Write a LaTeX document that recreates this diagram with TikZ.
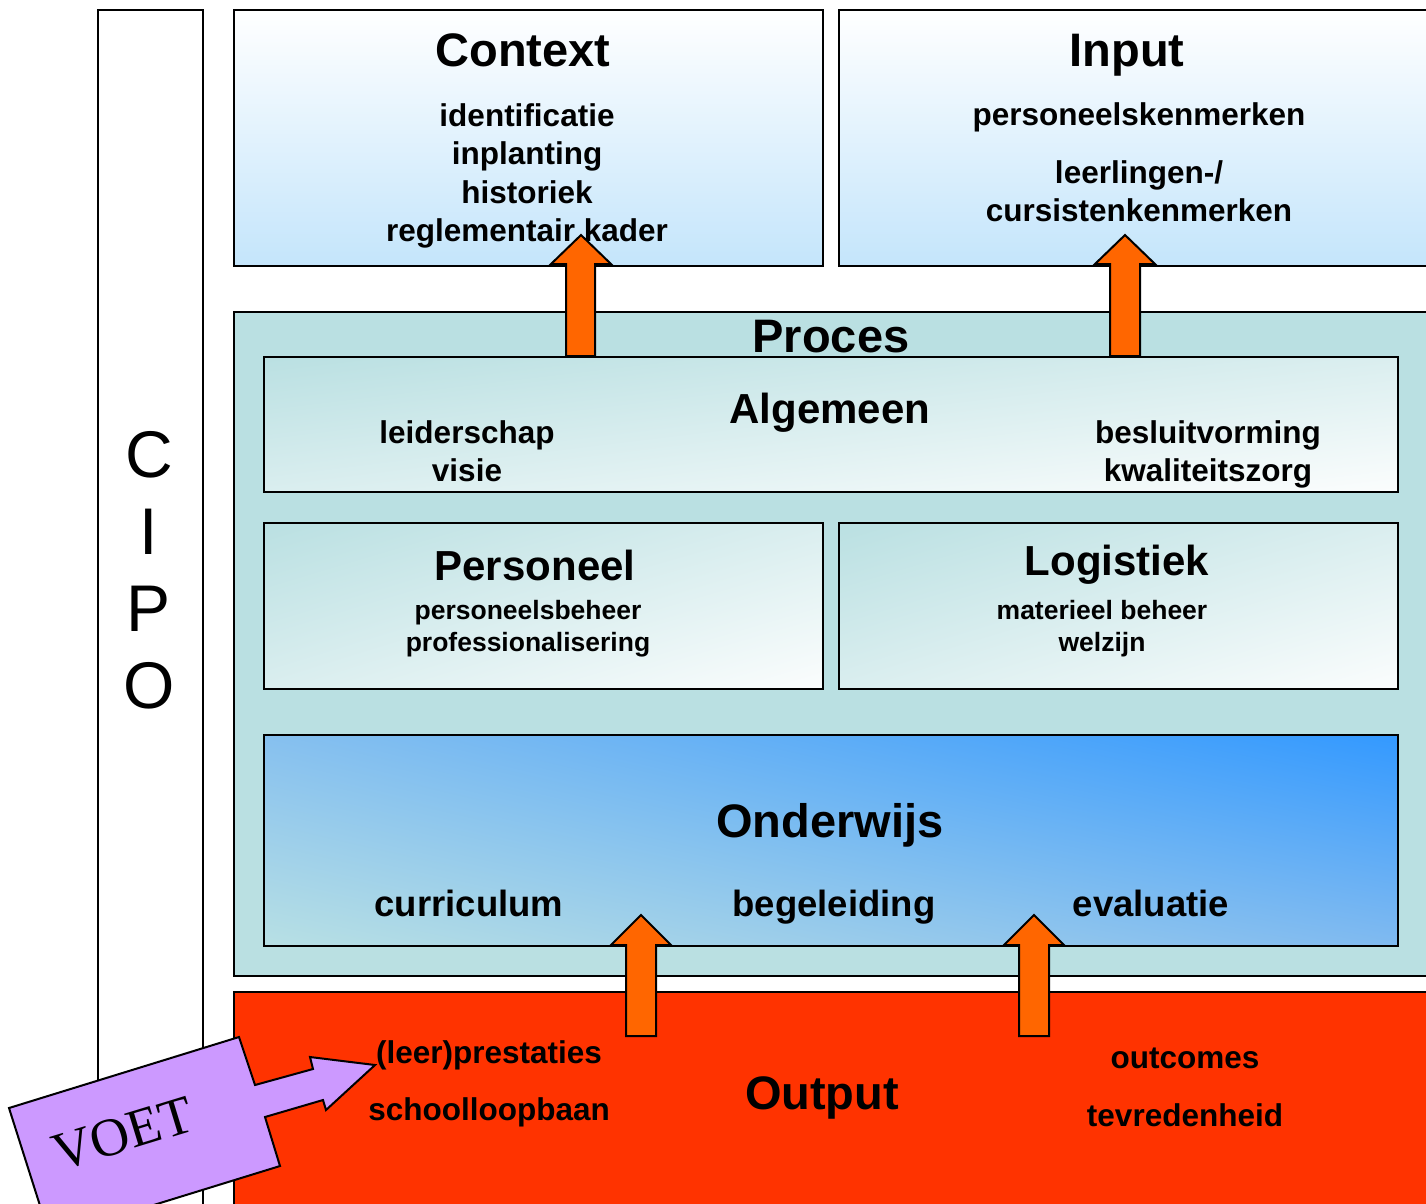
\documentclass[tikz,border=0pt]{standalone}
\usepackage{fontspec}
\usetikzlibrary{shadings}
\setmainfont{Liberation Sans}
\newfontfamily\voetfont{Liberation Serif}
\definecolor{procteal}{HTML}{BAE0E2}
\definecolor{ctxblue}{HTML}{C4E5FB}
\definecolor{outred}{HTML}{FF3300}
\definecolor{arrorange}{HTML}{FF6600}
\definecolor{voetpurple}{HTML}{CC99FF}
\definecolor{ondblue}{HTML}{3399FF}
\definecolor{ondul}{HTML}{86C0EF}
\definecolor{ondlr}{HTML}{80BAF0}
\definecolor{ondlow}{HTML}{B8E0E4}
\definecolor{algwhite}{HTML}{FBFDFD}
\definecolor{algmid}{HTML}{DAEEEF}
\tikzset{
  box/.style={draw=black, line width=2pt, inner sep=0pt, anchor=north west},
  orangearrow/.style={draw=black, line width=2pt, fill=arrorange, line join=miter},
  title/.style={font=\fontsize{47}{50}\selectfont\bfseries, anchor=base, inner sep=0pt},
  subtitle/.style={font=\fontsize{42}{46}\selectfont\bfseries, anchor=base, inner sep=0pt},
  item/.style={font=\fontsize{31.5}{36}\selectfont\bfseries, anchor=base, inner sep=0pt},
  smallitem/.style={font=\fontsize{26.5}{30}\selectfont\bfseries, anchor=base, inner sep=0pt},
  bigitem/.style={font=\fontsize{36.5}{40}\selectfont\bfseries, anchor=base, inner sep=0pt},
  cipo/.style={font=\fontsize{66}{70}\selectfont, anchor=base, inner sep=0pt},
}
\begin{document}
\begin{tikzpicture}[x=1pt,y=-1pt]
\useasboundingbox (0,0) rectangle (1426,1203);
\clip (0,0) rectangle (1426,1203);
\fill[white] (0,0) rectangle (1426,1203);

% boxes
\node[box, fill=white, minimum width=105pt, minimum height=1220pt] (cipobox) at (97,9) {};
\node[box, top color=white, bottom color=ctxblue, minimum width=589pt, minimum height=256pt] (context) at (233,9) {};
\node[box, top color=white, bottom color=ctxblue, minimum width=620pt, minimum height=256pt] (input) at (838,9) {};
\node[box, fill=procteal, minimum width=1220pt, minimum height=664pt] (proces) at (233,311) {};
\node[box, upper left=procteal, lower left=algmid, upper right=algmid, lower right=algwhite, minimum width=1134pt, minimum height=135pt] (algemeen) at (263,356) {};
\node[box, upper left=procteal, lower left=algmid, upper right=algmid, lower right=algwhite, minimum width=559pt, minimum height=166pt] (personeel) at (263,522) {};
\node[box, upper left=procteal, lower left=algmid, upper right=algmid, lower right=algwhite, minimum width=559pt, minimum height=166pt] (logistiek) at (838,522) {};
\node[box, upper left=ondul, lower left=ondlow, upper right=ondblue, lower right=ondlr, minimum width=1134pt, minimum height=211pt] (onderwijs) at (263,734) {};
\node[box, fill=outred, minimum width=1220pt, minimum height=240pt] (output) at (233,991) {};

% CIPO
\node[cipo] (c1) at (149,477) {C};
\node[cipo] (c2) at (149,554) {I};
\node[cipo] (c3) at (149,631) {P};
\node[cipo] (c4) at (149,708) {O};

% Context
\node[title] (tcontext) at (523,66) {Context};
\node[item] (ct1) at (527,126) {identificatie};
\node[item] (ct2) at (527,164.5) {inplanting};
\node[item] (ct3) at (527,203) {historiek};
\node[item] (ct4) at (527,241) {reglementair kader};

% Input
\node[title] (tinput) at (1127,66) {Input};
\node[item] (in1) at (1139,125) {personeelskenmerken};
\node[item] (in2) at (1139,183) {leerlingen-/};
\node[item] (in3) at (1139,221) {cursistenkenmerken};

% Proces
\node[title] (tproces) at (831,352) {Proces};
\node[subtitle] (talg) at (830,423) {Algemeen};
\node[item] (al1) at (467,443) {leiderschap};
\node[item] (al2) at (467,481) {visie};
\node[item] (al3) at (1208,443) {besluitvorming};
\node[item] (al4) at (1208,481) {kwaliteitszorg};

\node[subtitle] (tpers) at (535,580) {Personeel};
\node[smallitem] (pe1) at (528,619.5) {personeelsbeheer};
\node[smallitem] (pe2) at (528,651.5) {professionalisering};

\node[subtitle] (tlog) at (1117,575) {Logistiek};
\node[smallitem] (lo1) at (1102,619.5) {materieel beheer};
\node[smallitem] (lo2) at (1102,651.5) {welzijn};

\node[title] (tond) at (830,837) {Onderwijs};
\node[bigitem] (on1) at (469,916) {curriculum};
\node[bigitem] (on2) at (834,916) {begeleiding};
\node[bigitem] (on3) at (1151,916) {evaluatie};

% Output
\node[title] (tout) at (822,1109) {Output};
\node[item] (ou1) at (489,1063) {(leer)prestaties};
\node[item] (ou2) at (489,1120) {schoolloopbaan};
\node[item] (ou3) at (1185,1068) {outcomes};
\node[item] (ou4) at (1185,1126) {tevredenheid};

% orange arrows
\draw[orangearrow] (566,356) -- (566,264) -- (551,264) -- (581,235) -- (611,264) -- (595,264) -- (595,356) -- cycle;
\draw[orangearrow] (1110,356) -- (1110,264) -- (1095,264) -- (1125,235) -- (1155,264) -- (1140,264) -- (1140,356) -- cycle;
\draw[orangearrow] (626,1036) -- (626,945) -- (611,945) -- (641,915) -- (671,945) -- (656,945) -- (656,1036) -- cycle;
\draw[orangearrow] (1019,1036) -- (1019,945) -- (1004,945) -- (1034,915) -- (1064,945) -- (1049,945) -- (1049,1036) -- cycle;

% VOET
\draw[draw=black, line width=2pt, fill=voetpurple, line join=miter]
  (9,1108) -- (239,1037) -- (255,1085) -- (313,1069) -- (310,1057) -- (375,1065)
  -- (326,1110) -- (323,1100) -- (265,1117) -- (280,1166) -- (50,1237) -- cycle;
\node[font=\voetfont\fontsize{54}{58}\selectfont, rotate=17, inner sep=0pt] (voet) at (123,1134) {VOET};
\end{tikzpicture}
\end{document}
